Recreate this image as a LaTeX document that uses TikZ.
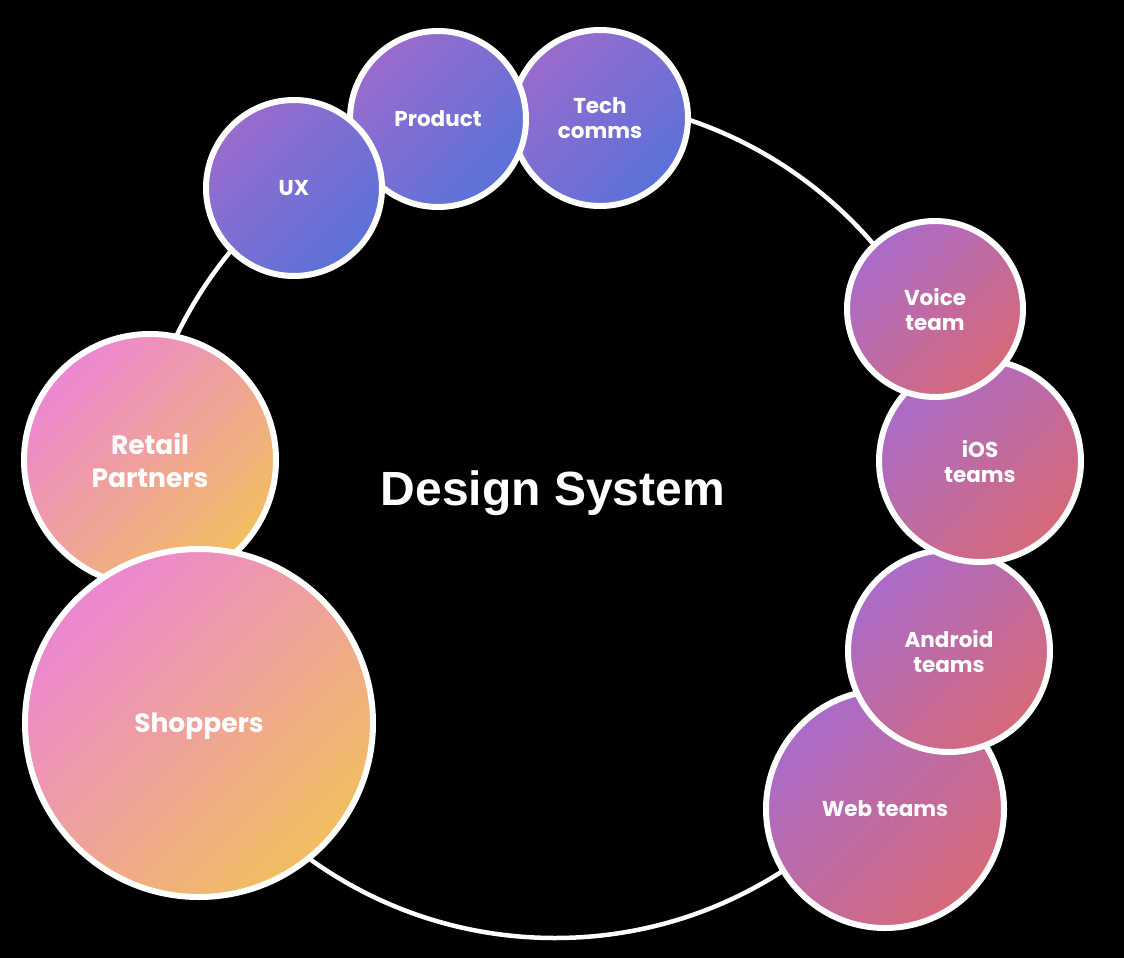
\documentclass[tikz,border=0pt]{standalone}
\usepackage{fontspec}
\setmainfont{Liberation Sans}
\newfontfamily\pop{Poppins}
\definecolor{bTL}{HTML}{9A6BCD}
\definecolor{bBR}{HTML}{5A72D9}
\definecolor{rTL}{HTML}{AA6BCA}
\definecolor{rBR}{HTML}{D66A78}
\definecolor{oTL}{HTML}{EC86D2}
\definecolor{oBR}{HTML}{F2BE60}
\begin{document}
\begin{tikzpicture}[x=1pt,y=-1pt,
  bubble/.style={circle, draw=white, line width=6pt, text=white, align=center, inner sep=0pt,
    font=\pop\bfseries\fontsize{21.5}{25}\selectfont},
  bigtext/.style={font=\pop\bfseries\fontsize{26.5}{33}\selectfont},
  bluebub/.style={bubble, top color=bTL, bottom color=bBR, shading angle=45},
  redbub/.style={bubble, top color=rTL, bottom color=rBR, shading angle=45},
  orabub/.style={bubble, top color=oTL, bottom color=oBR, shading angle=45},
  ring/.style={draw=white, line width=4.5pt}]
\fill[black] (0,0) rectangle (1124,958);
\useasboundingbox (0,0) rectangle (1124,958);
\coordinate (c) at (555,518);
\draw[ring] (c) circle[radius=420];
\node[font=\bfseries\fontsize{48}{50}\selectfont, text=white] (ds) at (553,493) {Design System};
% top group
\node[bluebub, minimum size=176pt] (tech) at (600,118) {Tech\\comms};
\node[bluebub, minimum size=176pt] (prod) at (438,119) {Product};
\node[bluebub, minimum size=176pt] (ux) at (294,188) {UX};
% right group
\node[redbub, minimum size=238pt] (web) at (885,809) {Web teams};
\node[redbub, minimum size=202pt] (andr) at (949,651) {Android\\teams};
\node[redbub, minimum size=202pt] (ios) at (980,461) {iOS\\teams};
\node[redbub, minimum size=176pt] (voice) at (935,309) {Voice\\team};
% left group
\node[orabub, bigtext, minimum size=252pt] (retail) at (150,460) {Retail\\Partners};
\node[orabub, bigtext, minimum size=348pt] (shop) at (199,723) {\smash{Shoppers}\rule{0pt}{19pt}};
\end{tikzpicture}
\end{document}
